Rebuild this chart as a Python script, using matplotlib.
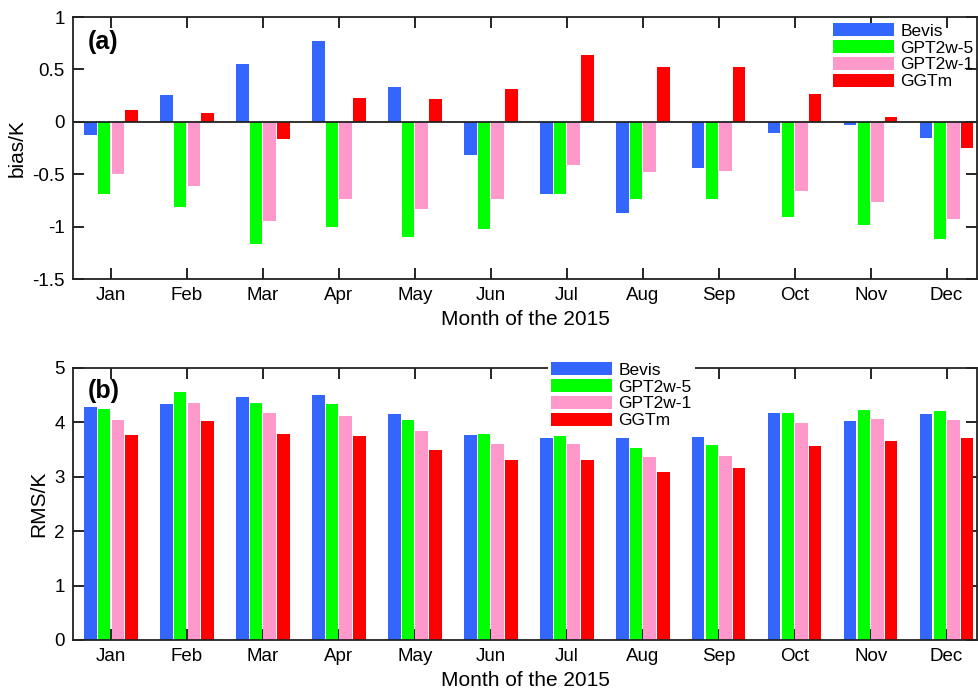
import matplotlib
matplotlib.use("Agg")
import matplotlib.pyplot as plt
import numpy as np

plt.rcParams['font.family'] = ['Liberation Sans', 'DejaVu Sans']

months = ["Jan", "Feb", "Mar", "Apr", "May", "Jun", "Jul", "Aug", "Sep", "Oct", "Nov", "Dec"]
series_names = ["Bevis", "GPT2w-5", "GPT2w-1", "GGTm"]
colors = ["#3366FF", "#00FF00", "#FF99CC", "#FF0000"]

bias_bevis = [-0.13, 0.26, 0.55, 0.77, 0.33, -0.32, -0.69, -0.87, -0.44, -0.11, -0.03, -0.15]
bias_gpt5 = [-0.69, -0.81, -1.17, -1.00, -1.10, -1.02, -0.69, -0.74, -0.74, -0.91, -0.98, -1.12]
bias_gpt1 = [-0.50, -0.61, -0.95, -0.74, -0.83, -0.74, -0.41, -0.48, -0.47, -0.66, -0.77, -0.93]
bias_ggtm = [0.11, 0.08, -0.16, 0.23, 0.22, 0.31, 0.64, 0.52, 0.52, 0.27, 0.05, -0.25]

rms_bevis = [4.28, 4.34, 4.47, 4.50, 4.16, 3.76, 3.72, 3.72, 3.74, 4.17, 4.02, 4.15]
rms_gpt5 = [4.25, 4.55, 4.36, 4.34, 4.05, 3.79, 3.75, 3.53, 3.59, 4.17, 4.23, 4.21]
rms_gpt1 = [4.05, 4.36, 4.18, 4.12, 3.85, 3.60, 3.60, 3.37, 3.39, 3.99, 4.06, 4.04]
rms_ggtm = [3.76, 4.02, 3.79, 3.75, 3.50, 3.31, 3.31, 3.09, 3.17, 3.56, 3.66, 3.72]

bias_yticks = [1, 0.5, 0, -0.5, -1, -1.5]
bias_yticklabels = ["1", "0.5", "0", "-0.5", "-1", "-1.5"]
rms_yticks = [0, 1, 2, 3, 4, 5]
rms_yticklabels = ["0", "1", "2", "3", "4", "5"]

fig = plt.figure(figsize=(9.79, 6.97), dpi=100)
ax1 = fig.add_axes([73/979, 1-279/697, 904/979, 262/697])
ax2 = fig.add_axes([73/979, 1-640/697, 904/979, 272/697])

x = np.arange(1, 13)
pitch = 0.18
bw = 0.165

def style(ax, yt, ytl, ylim, ylabel):
    ax.set_xlim(0.5, 12.4)
    ax.set_ylim(*ylim)
    ax.set_xticks(x)
    ax.set_xticklabels(months, fontsize=13.5)
    ax.set_yticks(yt)
    ax.set_yticklabels(ytl, fontsize=13.5)
    ax.tick_params(direction='in', length=8, width=1.2, top=True, right=True, pad=6)
    for s in ax.spines.values():
        s.set_linewidth(1.3)
        s.set_color('#222222')
    ax.set_ylabel(ylabel, fontsize=15)
    ax.set_xlabel("Month of the 2015", fontsize=15, labelpad=4)

bias_all = [bias_bevis, bias_gpt5, bias_gpt1, bias_ggtm]
rms_all = [rms_bevis, rms_gpt5, rms_gpt1, rms_ggtm]

leg_kw = dict(fontsize=12.5, handlelength=3.5, handleheight=0.75,
              labelspacing=0.08, handletextpad=0.35, borderpad=0.2, borderaxespad=0)

for i, (vals, c, n) in enumerate(zip(bias_all, colors, series_names)):
    ax1.bar(x + (i - 1.5) * pitch, vals, width=bw, color=c, label=n, zorder=2)
ax1.axhline(0, color='#222222', linewidth=1.3, zorder=3)
style(ax1, bias_yticks, bias_yticklabels, (-1.5, 1), "bias/K")
ax1.text((88-73)/904, 1 - (42-17)/262, "(a)", transform=ax1.transAxes, fontsize=18,
         fontweight='bold', va='center', ha='left')
ax1.legend(loc='upper left', bbox_to_anchor=(830/979, 1-20/697), bbox_transform=fig.transFigure,
           frameon=False, **leg_kw)

for i, (vals, c, n) in enumerate(zip(rms_all, colors, series_names)):
    ax2.bar(x + (i - 1.5) * pitch, vals, width=bw, color=c, label=n, zorder=2)
style(ax2, rms_yticks, rms_yticklabels, (0, 5), "RMS/K")
ax2.text((88-73)/904, 1 - (391-368)/272, "(b)", transform=ax2.transAxes, fontsize=18,
         fontweight='bold', va='center', ha='left')
leg2 = ax2.legend(loc='upper left', bbox_to_anchor=(548/979, 1-359/697), bbox_transform=fig.transFigure,
                  frameon=True, facecolor='white', edgecolor='none', framealpha=1, fancybox=False,
                  **leg_kw)
leg2.set_zorder(10)

fig.savefig("out.png", dpi=100)
